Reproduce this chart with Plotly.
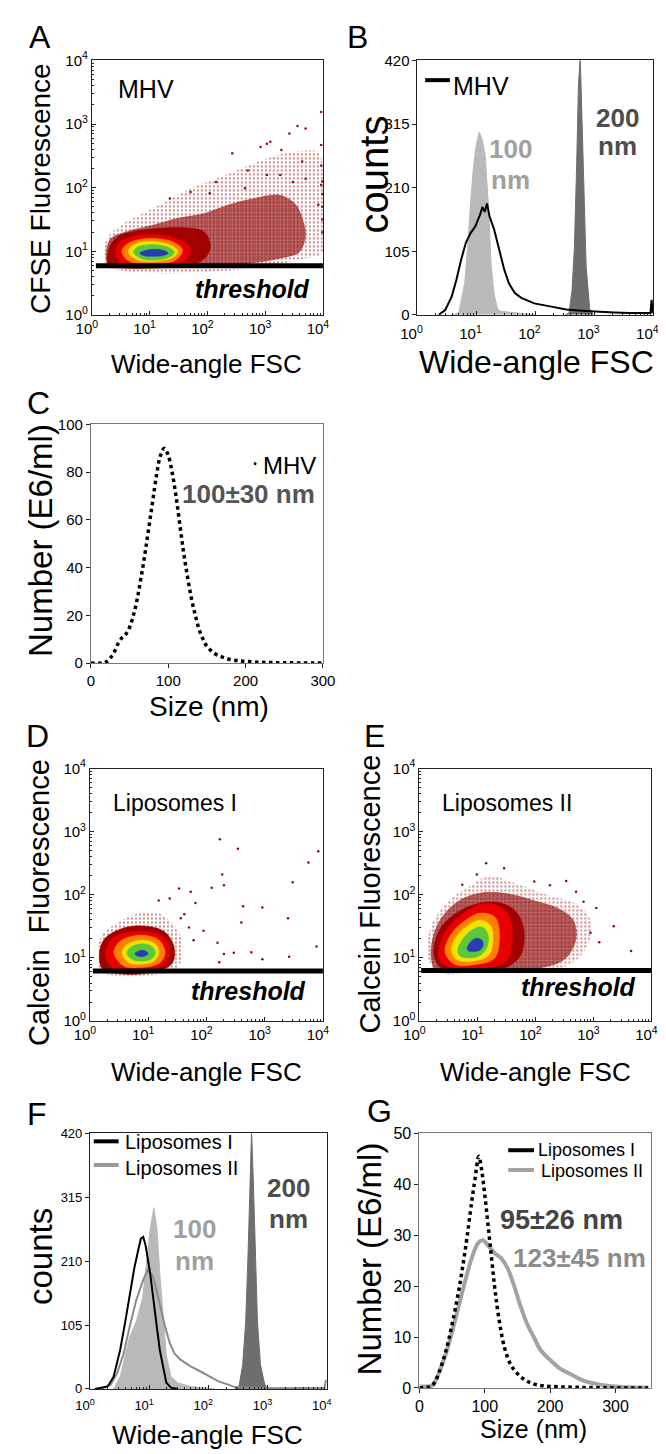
import plotly.graph_objects as go

W, H = 666, 1454
FONT = "Liberation Sans, Arial, sans-serif"

# ---------------- Panel A : MHV (log10 outlines of density levels) ----------------
A_HALO_LX = [0.22, 0.26, 0.50, 0.94, 1.32, 1.71, 2.15, 2.59, 3.03, 3.48, 3.92, 4.00, 4.00, 3.70, 2.98, 2.15, 1.32, 0.61, 0.30]
A_HALO_LY = [0.86, 1.20, 1.41, 1.62, 1.80, 1.99, 2.14, 2.30, 2.46, 2.56, 2.56, 2.30, 0.99, 0.89, 0.76, 0.68, 0.65, 0.68, 0.76]
A_MID_LX = [0.25, 0.33, 0.61, 1.05, 1.49, 1.93, 2.37, 2.81, 3.26, 3.53, 3.64, 3.70, 3.59, 3.26, 2.70, 2.15, 1.32, 0.50, 0.28]
A_MID_LY = [0.99, 1.20, 1.31, 1.41, 1.52, 1.59, 1.73, 1.83, 1.88, 1.73, 1.52, 1.25, 0.99, 0.89, 0.81, 0.76, 0.74, 0.74, 0.81]
A_DENSE_LX = [0.29, 0.30, 0.44, 0.72, 1.16, 1.60, 1.95, 2.05, 1.90, 1.50, 1.05, 0.50]
A_DENSE_LY = [0.76, 1.05, 1.23, 1.31, 1.36, 1.37, 1.30, 1.05, 0.85, 0.76, 0.74, 0.74]
A_RED_LX = [0.41, 0.50, 0.75, 1.10, 1.45, 1.71, 1.60, 1.20, 0.80, 0.50]
A_RED_LY = [1.00, 1.15, 1.24, 1.26, 1.20, 1.05, 0.85, 0.77, 0.76, 0.82]
A_ORANGE_LX = [0.52, 0.62, 0.85, 1.10, 1.40, 1.57, 1.45, 1.10, 0.80, 0.60]
A_ORANGE_LY = [1.00, 1.12, 1.19, 1.20, 1.15, 1.02, 0.86, 0.80, 0.80, 0.87]
A_YELLOW_LX = [0.63, 0.72, 0.90, 1.10, 1.35, 1.49, 1.38, 1.10, 0.85, 0.70]
A_YELLOW_LY = [1.00, 1.10, 1.15, 1.15, 1.10, 1.00, 0.89, 0.84, 0.85, 0.91]
A_GREEN_LX = [0.72, 0.80, 0.95, 1.15, 1.33, 1.43, 1.33, 1.10, 0.90, 0.78]
A_GREEN_LY = [0.99, 1.07, 1.10, 1.10, 1.06, 0.98, 0.90, 0.86, 0.87, 0.92]
A_BLUE_LX = [0.83, 0.92, 1.08, 1.25, 1.32, 1.22, 1.05, 0.90]
A_BLUE_LY = [0.97, 1.01, 1.03, 1.01, 0.97, 0.93, 0.92, 0.93]
A_OUT_LX = [3.42, 3.56, 3.70, 3.28, 3.03, 2.92, 3.09, 2.43, 2.70, 3.64, 3.97, 3.97, 3.97, 3.97, 3.92, 2.15, 1.35,
            1.71, 2.04, 2.65, 3.03, 3.26, 3.48, 3.70, 3.99, 3.99, 3.99, 3.99, 3.99]
A_OUT_LY = [2.85, 2.97, 2.93, 2.59, 2.69, 2.64, 2.72, 2.54, 2.27, 2.41, 3.19, 2.67, 2.35, 2.04, 1.73, 2.09, 1.83,
            1.93, 1.91, 1.99, 2.20, 2.20, 2.09, 2.14, 1.30, 1.50, 1.70, 1.90, 2.10]
A_THRESHOLD = 5.9

# ---------------- Panel B : FSC histograms ----------------
B_BEAD100_LX = [0.60, 0.70, 0.80, 0.85, 0.90, 0.95, 1.00, 1.05, 1.10, 1.15, 1.20, 1.25, 1.30, 1.35, 1.40, 1.60, 1.80, 2.00]
B_BEAD100_Y = [0, 4, 52, 110, 185, 245, 283, 302, 288, 262, 185, 80, 35, 12, 6, 4, 2, 0]
B_BEAD200_LX = [2.50, 2.57, 2.62, 2.66, 2.70, 2.73, 2.76, 2.79, 2.82, 2.86, 2.92, 2.98]
B_BEAD200_Y = [0, 3, 40, 110, 250, 380, 425, 330, 200, 80, 10, 0]
B_MHV_LX = [0.36, 0.47, 0.58, 0.66, 0.74, 0.82, 0.90, 0.98, 1.03, 1.06, 1.10, 1.14, 1.18, 1.22, 1.30, 1.39,
            1.47, 1.55, 1.65, 1.76, 1.98, 2.25, 2.52, 2.79, 3.06, 3.33, 3.60, 3.87, 3.95, 3.97, 3.99]
B_MHV_Y = [0, 8, 30, 58, 91, 119, 135, 146, 158, 165, 178, 170, 184, 163, 141, 108, 75, 52, 36, 28, 19, 14, 9,
           7, 5, 4, 3, 3, 3, 25, 3]

# ---------------- Panel C : MHV size distribution ----------------
C_SIZE = [0, 15, 20, 25, 30, 35, 40, 45, 50, 55, 60, 65, 70, 75, 80, 85, 90, 95, 100, 105, 110, 115, 120, 125,
          130, 135, 140, 145, 150, 160, 170, 180, 190, 200, 220, 250, 300]
C_NUM = [0, 0, 0.5, 2, 4.5, 8, 10.5, 12, 15, 20, 27, 36, 46, 57, 68, 79, 87, 90, 87, 80, 70, 58, 46, 36,
         27, 20, 14, 10, 7, 4, 2.5, 1.5, 1, 0.7, 0.3, 0.1, 0]

# ---------------- Panel D : Liposomes I ----------------
D_HALO_LX = [0.12, 0.20, 0.55, 0.90, 1.20, 1.45, 1.60, 1.50, 1.00, 0.50, 0.15]
D_HALO_LY = [1.00, 1.35, 1.60, 1.72, 1.70, 1.50, 1.20, 0.85, 0.72, 0.71, 0.80]
D_DENSE_LX = [0.16, 0.25, 0.60, 1.00, 1.30, 1.45, 1.40, 1.00, 0.50, 0.22]
D_DENSE_LY = [1.05, 1.30, 1.48, 1.50, 1.40, 1.15, 0.90, 0.76, 0.75, 0.82]
D_RED_LX = [0.27, 0.38, 0.70, 1.02, 1.27, 1.37, 1.28, 0.90, 0.50, 0.33]
D_RED_LY = [1.08, 1.30, 1.41, 1.41, 1.32, 1.10, 0.90, 0.79, 0.80, 0.90]
D_ORANGE_LX = [0.41, 0.50, 0.75, 1.00, 1.20, 1.29, 1.20, 0.90, 0.58]
D_ORANGE_LY = [1.08, 1.25, 1.35, 1.35, 1.27, 1.08, 0.92, 0.85, 0.87]
D_YELLOW_LX = [0.55, 0.62, 0.80, 1.00, 1.14, 1.18, 1.10, 0.88, 0.66]
D_YELLOW_LY = [1.08, 1.20, 1.27, 1.27, 1.20, 1.07, 0.95, 0.90, 0.93]
D_GREEN_LX = [0.63, 0.70, 0.85, 1.00, 1.10, 1.12, 1.05, 0.88, 0.72]
D_GREEN_LY = [1.08, 1.17, 1.22, 1.21, 1.15, 1.06, 0.98, 0.95, 0.98]
D_BLUE_LX = [0.77, 0.82, 0.90, 0.97, 1.00, 0.95, 0.87, 0.80]
D_BLUE_LY = [1.07, 1.10, 1.12, 1.10, 1.07, 1.03, 1.02, 1.04]
D_OUT_LX = [2.23, 2.54, 3.92, 3.75, 3.48, 2.27, 2.30, 2.09, 1.81, 2.63, 2.96, 2.60, 3.40, 1.53, 1.73, 1.62,
            1.70, 1.95, 2.19, 2.30, 2.22, 2.47, 2.77, 2.96, 3.42, 3.89, 1.18, 1.37, 1.56, 1.78]
D_OUT_LY = [2.88, 2.73, 2.69, 2.51, 2.20, 2.32, 2.15, 2.11, 1.87, 1.82, 1.80, 1.56, 1.63, 2.10, 2.05, 1.69,
            1.48, 1.43, 1.24, 1.06, 0.93, 1.08, 1.09, 0.98, 1.02, 1.18, 1.91, 1.94, 1.63, 1.28]
D_THRESHOLD = 6.2

# ---------------- Panel E : Liposomes II ----------------
E_HALO_LX = [0.15, 0.20, 0.50, 0.90, 1.20, 1.60, 2.20, 2.70, 2.95, 2.90, 2.60, 2.00, 1.00, 0.30]
E_HALO_LY = [1.00, 1.50, 1.90, 2.15, 2.30, 2.20, 2.00, 1.85, 1.60, 1.20, 0.90, 0.78, 0.76, 0.78]
E_MID_LX = [0.20, 0.30, 0.60, 1.00, 1.50, 2.00, 2.40, 2.65, 2.70, 2.50, 2.00, 1.00, 0.30]
E_MID_LY = [1.02, 1.50, 1.85, 2.02, 2.02, 1.90, 1.78, 1.60, 1.30, 0.98, 0.83, 0.79, 0.80]
E_DENSE_LX = [0.25, 0.35, 0.65, 1.00, 1.35, 1.65, 1.80, 1.75, 1.50, 1.00, 0.40]
E_DENSE_LY = [1.05, 1.45, 1.72, 1.86, 1.88, 1.75, 1.45, 1.05, 0.85, 0.80, 0.82]
E_RED_LX = [0.33, 0.45, 0.75, 1.05, 1.35, 1.55, 1.60, 1.50, 1.10, 0.60, 0.38]
E_RED_LY = [1.08, 1.42, 1.70, 1.85, 1.83, 1.65, 1.30, 0.95, 0.84, 0.84, 0.92]
E_ORANGE_LX = [0.44, 0.55, 0.80, 1.05, 1.30, 1.38, 1.30, 1.00, 0.60]
E_ORANGE_LY = [1.10, 1.38, 1.60, 1.71, 1.65, 1.40, 1.00, 0.90, 0.90]
E_YELLOW_LX = [0.55, 0.65, 0.85, 1.05, 1.22, 1.27, 1.20, 0.95, 0.65]
E_YELLOW_LY = [1.12, 1.35, 1.52, 1.60, 1.52, 1.30, 1.05, 0.95, 0.97]
E_GREEN_LX = [0.66, 0.75, 0.92, 1.08, 1.18, 1.17, 1.05, 0.85, 0.70]
E_GREEN_LY = [1.12, 1.30, 1.45, 1.49, 1.38, 1.18, 1.04, 1.00, 1.03]
E_BLUE_LX = [0.82, 0.88, 0.98, 1.08, 1.10, 1.04, 0.92, 0.85]
E_BLUE_LY = [1.15, 1.25, 1.31, 1.28, 1.20, 1.12, 1.10, 1.11]
E_OUT_LX = [3.35, 3.65, 2.53, 3.05, 2.83, 1.15, 1.46, 1.98, 2.25, 0.99, 0.74, 2.95, 3.10, 2.70]
E_OUT_LY = [1.50, 1.11, 2.22, 1.79, 1.89, 2.50, 2.42, 2.21, 2.15, 2.32, 2.16, 1.40, 1.25, 2.05]
E_THRESHOLD = 6.3

# ---------------- Panel F : liposome FSC histograms ----------------
F_BEAD100_LX = [0.40, 0.51, 0.67, 0.78, 0.89, 0.97, 1.02, 1.08, 1.13, 1.18, 1.24, 1.29, 1.37, 1.48, 1.70, 1.91, 2.10]
F_BEAD100_Y = [0, 20, 85, 110, 150, 215, 265, 298, 265, 190, 110, 55, 20, 10, 4, 2, 0]
F_BEAD200_LX = [2.45, 2.52, 2.58, 2.63, 2.67, 2.70, 2.73, 2.76, 2.79, 2.83, 2.88, 2.95, 3.00]
F_BEAD200_Y = [0, 5, 40, 110, 220, 340, 425, 340, 220, 110, 40, 8, 0]
F_LIP1_LX = [0.08, 0.30, 0.40, 0.51, 0.59, 0.67, 0.75, 0.81, 0.86, 0.90, 0.94, 1.02, 1.08, 1.13, 1.18, 1.24, 1.29, 1.37, 1.48]
F_LIP1_Y = [0, 4, 20, 64, 107, 155, 199, 226, 247, 250, 236, 188, 145, 102, 64, 31, 10, 2, 0]
F_LIP2_LX = [0.19, 0.35, 0.46, 0.57, 0.67, 0.78, 0.89, 0.97, 1.05, 1.10, 1.18, 1.27, 1.35, 1.43, 1.53, 1.70,
             1.86, 2.02, 2.18, 2.34, 2.45, 2.66, 3.20, 3.96, 3.99]
F_LIP2_Y = [0, 7, 26, 58, 102, 145, 177, 195, 188, 172, 139, 102, 75, 58, 48, 37, 29, 20, 12, 7, 3, 2, 1, 2, 15]

# ---------------- Panel G : liposome size distributions ----------------
G_LIP1_SIZE = [0, 15, 20, 25, 30, 40, 50, 60, 70, 80, 85, 91, 95, 100, 105, 110, 115, 120, 130, 140, 150, 160,
               170, 180, 200, 250, 300, 350]
G_LIP1_NUM = [0, 0.2, 0.5, 1.5, 3, 7, 12.5, 19, 27, 36.5, 41, 45.5, 43, 38, 32, 26, 20, 15, 8, 4.5, 2.8, 1.7,
              1.0, 0.6, 0.3, 0.1, 0, 0]
G_LIP2_SIZE = [0, 15, 20, 25, 30, 40, 50, 60, 70, 80, 90, 97, 105, 115, 125, 135, 145, 155, 165, 175, 185, 200,
               215, 230, 250, 270, 290, 310, 350]
G_LIP2_NUM = [0.3, 0.3, 0.5, 1.5, 3, 6.5, 11, 16, 21, 25.5, 28.5, 29, 28, 26.5, 25.5, 23.5, 20, 16, 12.5, 10,
              7.5, 5.5, 3.8, 2.8, 1.5, 0.8, 0.4, 0.2, 0.1]

LOG_TICKS = [1, 10, 100, 1000, 10000]
LOG_TEXT = ["10<sup>0</sup>", "10<sup>1</sup>", "10<sup>2</sup>", "10<sup>3</sup>", "10<sup>4</sup>"]
MINOR_LOG = [m * 10 ** d for d in range(4) for m in range(2, 10)]

COL = dict(speck="#8a0c0c", mid="rgba(150,14,14,0.55)", dense="#a30000", red="#e80000", orange="#ff7f00",
           yellow="#f0e400", green="#5ac83c", blue="#2b3bb0")


def PX(x):
    return x / W


def PY(y):
    return 1 - y / H


def dx(x0, x1):
    return [x0 / W, x1 / W]


def dy(y0, y1):
    return [1 - y1 / H, 1 - y0 / H]


def pw(vals):
    return [10 ** v for v in vals]


fig = go.Figure()


def poly(lx, ly, color, ax, pattern=None):
    xs = pw(lx) + [10 ** lx[0]]
    ys = pw(ly) + [10 ** ly[0]]
    kw = dict(x=xs, y=ys, mode="lines", fill="toself", xaxis="x" + ax, yaxis="y" + ax,
              line=dict(width=0.5, color=color if pattern is None else "rgba(0,0,0,0)",
                        shape="spline", smoothing=1.0),
              hoverinfo="skip", showlegend=False)
    if pattern is None:
        kw["fillcolor"] = color
    else:
        kw["fillcolor"] = "rgba(0,0,0,0)"
        kw["fillpattern"] = dict(shape=".", fgcolor=color, bgcolor="rgba(0,0,0,0)",
                                 size=pattern[0], solidity=pattern[1])
    fig.add_trace(go.Scatter(**kw))


def density_panel(ax, levels, out_lx, out_ly, thr, thr_start):
    for lx, ly, color, pat in levels:
        poly(lx, ly, color, ax, pat)
    fig.add_trace(go.Scatter(x=pw(out_lx), y=pw(out_ly), mode="markers", xaxis="x" + ax, yaxis="y" + ax,
                             marker=dict(size=2.5, color=COL["speck"]), showlegend=False, hoverinfo="skip"))
    fig.add_trace(go.Scatter(x=[thr_start, 10 ** 4], y=[thr, thr], mode="lines", xaxis="x" + ax, yaxis="y" + ax,
                             line=dict(color="black", width=5), showlegend=False, hoverinfo="skip"))


# Panel A
density_panel("", [
    (A_HALO_LX, A_HALO_LY, COL["speck"], (4, 0.25)),
    (A_MID_LX, A_MID_LY, COL["mid"], None),
    (A_MID_LX, A_MID_LY, COL["speck"], (3, 0.5)),
    (A_DENSE_LX, A_DENSE_LY, COL["dense"], None),
    (A_RED_LX, A_RED_LY, COL["red"], None),
    (A_ORANGE_LX, A_ORANGE_LY, COL["orange"], None),
    (A_YELLOW_LX, A_YELLOW_LY, COL["yellow"], None),
    (A_GREEN_LX, A_GREEN_LY, COL["green"], None),
    (A_BLUE_LX, A_BLUE_LY, COL["blue"], None),
], A_OUT_LX, A_OUT_LY, A_THRESHOLD, 10 ** 0.07)

# Panel B
fig.add_trace(go.Scatter(x=pw(B_BEAD100_LX), y=B_BEAD100_Y, fill="tozeroy", mode="lines", xaxis="x2", yaxis="y2",
                         line=dict(color="#b9b9b9", width=1), fillcolor="#b9b9b9", showlegend=False))
fig.add_trace(go.Scatter(x=pw(B_BEAD200_LX), y=B_BEAD200_Y, fill="tozeroy", mode="lines", xaxis="x2", yaxis="y2",
                         line=dict(color="#6e6e6e", width=1), fillcolor="#6e6e6e", showlegend=False))
fig.add_trace(go.Scatter(x=pw(B_MHV_LX), y=B_MHV_Y, mode="lines", xaxis="x2", yaxis="y2",
                         line=dict(color="black", width=2), showlegend=False))

# Panel C
fig.add_trace(go.Scatter(x=C_SIZE, y=C_NUM, mode="lines", xaxis="x3", yaxis="y3",
                         line=dict(color="black", width=3.5, dash="dot", shape="spline"), showlegend=False))

# Panel D
density_panel("4", [
    (D_HALO_LX, D_HALO_LY, COL["speck"], (4, 0.25)),
    (D_DENSE_LX, D_DENSE_LY, COL["dense"], None),
    (D_RED_LX, D_RED_LY, COL["red"], None),
    (D_ORANGE_LX, D_ORANGE_LY, COL["orange"], None),
    (D_YELLOW_LX, D_YELLOW_LY, COL["yellow"], None),
    (D_GREEN_LX, D_GREEN_LY, COL["green"], None),
    (D_BLUE_LX, D_BLUE_LY, COL["blue"], None),
], D_OUT_LX, D_OUT_LY, D_THRESHOLD, 10 ** 0.05)

# Panel E
density_panel("5", [
    (E_HALO_LX, E_HALO_LY, COL["speck"], (4, 0.25)),
    (E_MID_LX, E_MID_LY, COL["mid"], None),
    (E_MID_LX, E_MID_LY, COL["speck"], (3, 0.5)),
    (E_DENSE_LX, E_DENSE_LY, COL["dense"], None),
    (E_RED_LX, E_RED_LY, COL["red"], None),
    (E_ORANGE_LX, E_ORANGE_LY, COL["orange"], None),
    (E_YELLOW_LX, E_YELLOW_LY, COL["yellow"], None),
    (E_GREEN_LX, E_GREEN_LY, COL["green"], None),
    (E_BLUE_LX, E_BLUE_LY, COL["blue"], None),
], E_OUT_LX, E_OUT_LY, E_THRESHOLD, 10 ** 0.03)

# Panel F
fig.add_trace(go.Scatter(x=pw(F_BEAD100_LX), y=F_BEAD100_Y, fill="tozeroy", mode="lines", xaxis="x6", yaxis="y6",
                         line=dict(color="#b9b9b9", width=1), fillcolor="#b9b9b9", showlegend=False))
fig.add_trace(go.Scatter(x=pw(F_BEAD200_LX), y=F_BEAD200_Y, fill="tozeroy", mode="lines", xaxis="x6", yaxis="y6",
                         line=dict(color="#6e6e6e", width=1), fillcolor="#6e6e6e", showlegend=False))
fig.add_trace(go.Scatter(x=pw(F_LIP2_LX), y=F_LIP2_Y, mode="lines", xaxis="x6", yaxis="y6",
                         line=dict(color="#8a8a8a", width=2), showlegend=False))
fig.add_trace(go.Scatter(x=pw(F_LIP1_LX), y=F_LIP1_Y, mode="lines", xaxis="x6", yaxis="y6",
                         line=dict(color="black", width=2), showlegend=False))

# Panel G
fig.add_trace(go.Scatter(x=G_LIP2_SIZE, y=G_LIP2_NUM, mode="lines", xaxis="x7", yaxis="y7",
                         line=dict(color="#a3a3a3", width=4, shape="spline"), showlegend=False))
fig.add_trace(go.Scatter(x=G_LIP1_SIZE, y=G_LIP1_NUM, mode="lines", xaxis="x7", yaxis="y7",
                         line=dict(color="black", width=3.5, dash="dot", shape="spline"), showlegend=False))


def log_axis(domain, anchor, size=15, shift=0, standoff=0):
    return dict(type="log", range=[0, 4], domain=domain, anchor=anchor, tickvals=LOG_TICKS, ticktext=LOG_TEXT,
                ticks="inside", ticklen=4, tickcolor="#222", linecolor="#222", linewidth=1, mirror=True,
                showgrid=False, zeroline=False, tickfont=dict(size=size, color="black", family=FONT),
                ticklabelshift=shift, ticklabelstandoff=standoff,
                minor=dict(tickvals=MINOR_LOG, ticks="inside", ticklen=2, tickcolor="#222"))


def lin_axis(domain, anchor, rng, tickvals, size, lc="#222"):
    return dict(type="linear", range=rng, domain=domain, anchor=anchor, tickvals=tickvals,
                ticks="outside", ticklen=4, tickcolor="#222", linecolor=lc, linewidth=1, mirror=True,
                showgrid=False, zeroline=False, tickfont=dict(size=size, color="black", family=FONT))


CNT = [0, 105, 210, 315, 420]
layout = dict(
    width=W, height=H, margin=dict(l=0, r=0, t=0, b=0), paper_bgcolor="white", plot_bgcolor="white",
    font=dict(family=FONT, color="black"), showlegend=False,
    xaxis=log_axis(dx(70, 312), "y", 15, -5), yaxis=log_axis(dy(42, 300), "x"),
    xaxis2=log_axis(dx(411, 658), "y2", 15, -6, 5), yaxis2=lin_axis(dy(42, 300), "x2", [0, 420], CNT, 15),
    xaxis3=lin_axis(dx(69, 312), "y3", [0, 300], [0, 100, 200, 300], 15, "#777"),
    yaxis3=lin_axis(dy(411, 653), "x3", [0, 100], [0, 20, 40, 60, 80, 100], 15, "#777"),
    xaxis4=log_axis(dx(68, 312), "y4", 15, -5), yaxis4=log_axis(dy(760, 1016), "x4"),
    xaxis5=log_axis(dx(413, 656), "y5", 15, -5), yaxis5=log_axis(dy(760, 1016), "x5"),
    xaxis6=log_axis(dx(68, 316), "y6", 13, -5, 5), yaxis6=lin_axis(dy(1130, 1389), "x6", [0, 420], CNT, 13),
    xaxis7=lin_axis(dx(413, 656), "y7", [0, 355], [0, 100, 200, 300], 16, "#777"),
    yaxis7=lin_axis(dy(1130, 1388), "x7", [0, 50], [0, 10, 20, 30, 40, 50], 16, "#777"),
)
fig.update_layout(**layout)


def txt(s, x, y, size, color="black", bold=False, italic=False, angle=0, xanchor="center"):
    if italic:
        s = "<i>" + s + "</i>"
    if bold:
        s = "<b>" + s + "</b>"
    return dict(text=s, x=PX(x), y=PY(y), xref="paper", yref="paper", showarrow=False, textangle=angle,
                xanchor=xanchor, yanchor="middle", font=dict(size=size, color=color, family=FONT))


ann = [
    # panel letters
    txt("A", 16, 18, 32), txt("B", 348, 18, 32), txt("C", 14, 389, 32), txt("D", 13, 727, 32),
    txt("E", 366, 727, 32), txt("F", 13, 1110, 32), txt("G", 371, 1107, 32),
    # axis titles
    txt("CFSE Fluorescence", 16, 172, 28, angle=-90), txt("Wide-angle FSC", 190, 350, 26),
    txt("counts", 365, 158, 40, angle=-90), txt("Wide-angle FSC", 536, 348, 32),
    txt("Number (E6/ml)", 16, 529, 33, angle=-90), txt("Size (nm)", 193, 697, 28),
    txt("Calcein  Fluorescence", 14, 896, 29, angle=-90), txt("Wide-angle FSC", 190, 1068, 26),
    txt("Calcein Fluorescence", 361, 887, 29, angle=-90), txt("Wide-angle FSC", 535, 1068, 26),
    txt("counts", 16, 1255, 33, angle=-90), txt("Wide-angle FSC", 191, 1436, 26),
    txt("Number (E6/ml)", 361, 1257, 33, angle=-90), txt("Size (nm)", 533, 1430, 25),
    # panel A
    txt("MHV", 127, 71, 25), txt("threshold", 238, 274, 25, bold=True, italic=True),
    # panel B
    txt("MHV", 446, 68, 25, xanchor="left"),
    txt("200", 620, 100, 26, "#4d4d4d", bold=True), txt("nm", 620, 129, 26, "#4d4d4d", bold=True),
    txt("100", 508, 132, 26, "#a0a0a0", bold=True), txt("nm", 508, 163, 26, "#a0a0a0", bold=True),
    # panel C
    txt("MHV", 247, 453, 24, xanchor="left"), txt("100±30 nm", 234, 482, 26, "#555555", bold=True),
    # panel D / E
    txt("Liposomes I", 157, 795, 23), txt("threshold", 234, 986, 25, bold=True, italic=True),
    txt("Liposomes II", 505, 795, 23), txt("threshold", 580, 982, 25, bold=True, italic=True),
    # panel F
    txt("Liposomes I", 103, 1139, 20, xanchor="left"), txt("Liposomes II", 103, 1165, 20, xanchor="left"),
    txt("100", 178, 1227, 26, "#a0a0a0", bold=True), txt("nm", 178, 1259, 26, "#a0a0a0", bold=True),
    txt("200", 276, 1185, 26, "#4d4d4d", bold=True), txt("nm", 276, 1217, 26, "#4d4d4d", bold=True),
    # panel G
    txt("Liposomes I", 535, 1147, 18, xanchor="left"), txt("Liposomes II", 538, 1168, 18, xanchor="left"),
    txt("95±26 nm", 562, 1218, 27, "#444444", bold=True), txt("123±45 nm", 581, 1256, 26, "#8c8c8c", bold=True),
]
fig.update_layout(annotations=ann)


def seg(x0, x1, y, color, w):
    return dict(type="line", xref="paper", yref="paper", x0=PX(x0), x1=PX(x1), y0=PY(y), y1=PY(y),
                line=dict(color=color, width=w))


shapes = [
    seg(419, 445, 62, "black", 4),
    seg(72, 98, 1138, "black", 4), seg(72, 98, 1162, "#9a9a9a", 4),
    seg(506, 533, 1147, "black", 4), seg(506, 533, 1167, "#a3a3a3", 4),
    dict(type="circle", xref="paper", yref="paper", x0=PX(239.5), x1=PX(242.5), y0=PY(449.5), y1=PY(452.5),
         fillcolor="black", line=dict(width=0)),
]
fig.update_layout(shapes=shapes)

fig.write_html("out.html")
